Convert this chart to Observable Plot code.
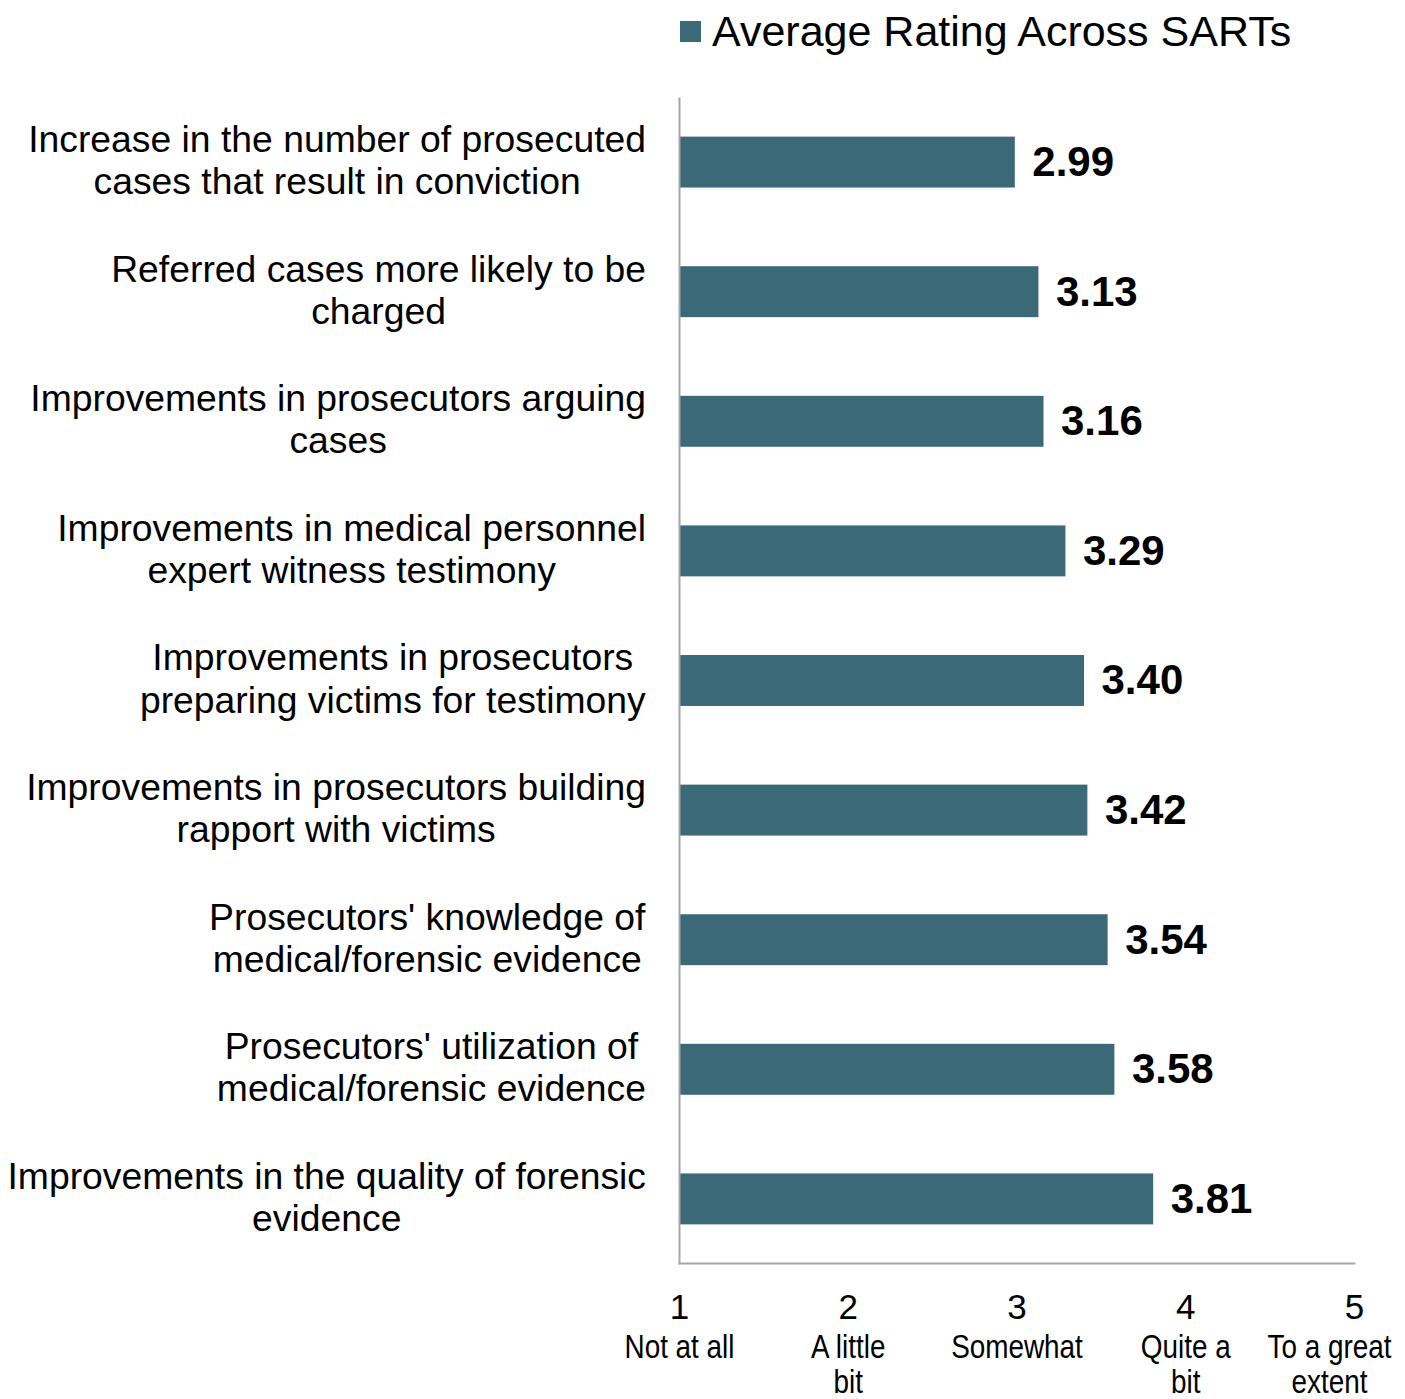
<!DOCTYPE html>
<html>
<head>
<meta charset="utf-8">
<script src="https://cdn.jsdelivr.net/npm/d3@7"></script>
<script src="https://cdn.jsdelivr.net/npm/@observablehq/plot@0.6"></script>
<style>
  html, body { margin: 0; padding: 0; background: #fff; width: 1405px; height: 1399px; overflow: hidden; }
  #legend { height: 65px; box-sizing: border-box; padding-left: 680px; padding-bottom: 2px;
    font-family: "Liberation Sans", Arial, sans-serif; font-size: 43px; color: #000; display: flex; align-items: center; }
  #legend .sw { display: inline-block; width: 21px; height: 21px; background: #3b6978; margin-right: 11px; }
</style>
</head>
<body>
<div id="legend"><span class="sw"></span><span>Average Rating Across SARTs</span></div>
<div id="chart"></div>
<script>
const categories = [
  "Increase in the number of prosecuted\ncases that result in conviction",
  "Referred cases more likely to be\ncharged",
  "Improvements in prosecutors arguing\ncases",
  "Improvements in medical personnel\nexpert witness testimony",
  "Improvements in prosecutors\npreparing victims for testimony",
  "Improvements in prosecutors building\nrapport with victims",
  "Prosecutors' knowledge of\nmedical/forensic evidence",
  "Prosecutors' utilization of\nmedical/forensic evidence",
  "Improvements in the quality of forensic\nevidence"
];
const values = [2.99, 3.13, 3.16, 3.29, 3.40, 3.42, 3.54, 3.58, 3.81];
const scaleTicks = [1, 2, 3, 4, 5];
const scaleLabels = ["Not at all", "A little\nbit", "Somewhat", "Quite a\nbit", "To a great\nextent"];
const seriesName = "Average Rating Across SARTs";
const baseline = 1;

const data = categories.map((c, i) => ({category: c, value: values[i]}));
const tickData = scaleTicks.map((t, i) => ({t, label: scaleLabels[i]}));
const color = "#3b6978";

const plot = Plot.plot({
  width: 1405,
  height: 1334,
  marginTop: 33,
  marginBottom: 136,
  marginLeft: 679,
  marginRight: 51,
  style: {fontFamily: "'Liberation Sans', Arial, sans-serif", color: "#000", background: "#fff", overflow: "visible"},
  x: {domain: [1, 5], axis: null},
  y: {domain: categories, paddingInner: 0.607, paddingOuter: 0.298, round: false, axis: null},
  marks: [
    Plot.barX(data, {x1: () => baseline, x2: "value", y: "category", fill: color}),
    Plot.text(data, {x: "value", y: "category", text: d => d.value.toFixed(2), dx: 17, textAnchor: "start",
      fontWeight: "bold", fontSize: 42, fill: "#000"}),
    Plot.axisY({tickSize: 0, tickPadding: 33, fontSize: 37.3, lineHeight: 1.13, textAnchor: "middle", lineWidth: 100, label: null, fill: "#000", dy: -3}),
    Plot.frame({anchor: "left", stroke: "#a6a6a6", strokeWidth: 2}),
    Plot.frame({anchor: "bottom", stroke: "#a6a6a6", strokeWidth: 2}),
    Plot.text(tickData, {x: "t", text: d => String(d.t), frameAnchor: "bottom", dy: 44, lineAnchor: "middle", fontSize: 35, fill: "#000"}),
    Plot.text(tickData, {x: "t", text: "label", frameAnchor: "bottom", dy: 69, lineAnchor: "top", lineHeight: 1.08, fontSize: 33,
      fill: "#000", className: "scale-labels"})
  ]
});
document.getElementById("chart").appendChild(plot);

// Right-align each multi-line category block (lines centered within the block) against the axis
const rightEdge = 646;
plot.querySelectorAll('[aria-label="y-axis tick label"] text').forEach(t => {
  const r = t.getBoundingClientRect();
  const dx = rightEdge - r.right;
  t.setAttribute("transform", (t.getAttribute("transform") || "") + ` translate(${dx},0)`);
});
// Narrow (condensed) rendering of the scale labels, kept inside the page
const squeeze = 0.845;
plot.querySelectorAll('.scale-labels text').forEach(t => {
  t.setAttribute("transform", (t.getAttribute("transform") || "") + ` scale(${squeeze},1)`);
  const r = t.getBoundingClientRect();
  const maxRight = 1392;
  if (r.right > maxRight) {
    t.setAttribute("transform", (t.getAttribute("transform") || "") + ` translate(${(maxRight - r.right) / squeeze},0)`);
  }
});
</script>
</body>
</html>
